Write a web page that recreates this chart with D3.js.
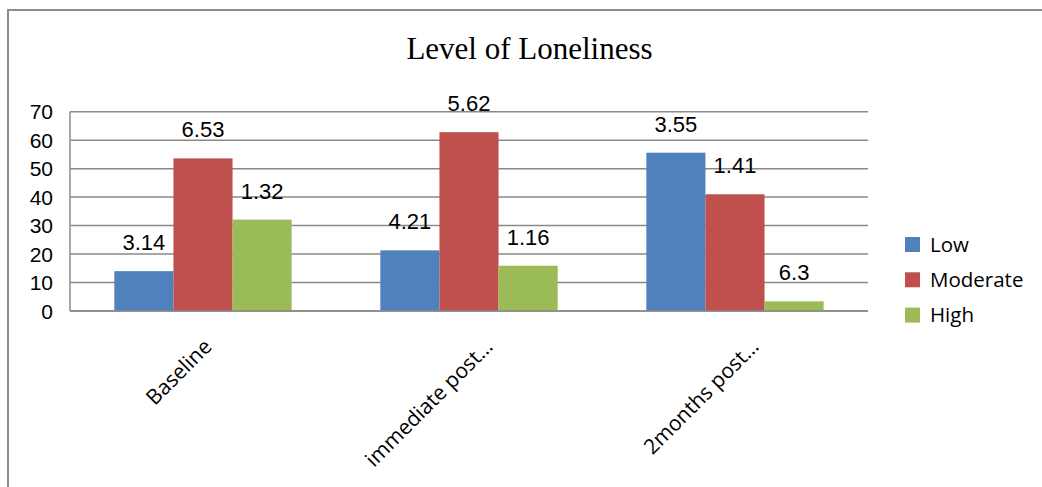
<!DOCTYPE html>
<html>
<head>
<meta charset="utf-8">
<script src="https://cdn.jsdelivr.net/npm/d3@7"></script>
<style>
  html, body { margin: 0; padding: 0; background: #fff; }
  svg { display: block; }
</style>
</head>
<body>
<svg id="chart" width="1042" height="487"></svg>
<script>
// ---- data ----
const title = "Level of Loneliness";
const categories = ["Baseline", "immediate post…", "2months post…"];
const seriesNames = ["Low", "Moderate", "High"];
const lowValues = [14.0, 21.3, 55.6];
const moderateValues = [53.6, 62.8, 41.0];
const highValues = [32.1, 15.9, 3.4];
const lowLabels = ["3.14", "4.21", "3.55"];
const moderateLabels = ["6.53", "5.62", "1.41"];
const highLabels = ["1.32", "1.16", "6.3"];
const yTicks = [0, 10, 20, 30, 40, 50, 60, 70];
const colors = ["#4f81bd", "#c0504d", "#9bbb59"];

const seriesValues = [lowValues, moderateValues, highValues];
const seriesLabels = [lowLabels, moderateLabels, highLabels];

// ---- layout ----
const svg = d3.select("#chart");
const plot = { left: 70, right: 868, top: 111.7, bottom: 311 };

// chart border
svg.append("rect")
  .attr("x", 8).attr("y", 10)
  .attr("width", 1100).attr("height", 600)
  .attr("fill", "none").attr("stroke", "#8c8c8c").attr("stroke-width", 2);

// title
svg.append("text")
  .attr("x", 529.5).attr("y", 59)
  .attr("text-anchor", "middle")
  .attr("font-family", "'Liberation Serif', 'DejaVu Serif', serif")
  .attr("font-size", 31)
  .attr("fill", "#000")
  .text(title);

const y = d3.scaleLinear().domain([0, 70]).range([plot.bottom, plot.top]);
const x0 = d3.scaleBand().domain(categories).range([plot.left, plot.right]).paddingInner(0).paddingOuter(0);
const x1 = d3.scaleBand().domain(seriesNames).range([0, x0.bandwidth()]).paddingInner(0).paddingOuter(0.75);

// gridlines
svg.append("g").selectAll("line").data(yTicks).join("line")
  .attr("x1", plot.left).attr("x2", plot.right)
  .attr("y1", d => y(d)).attr("y2", d => y(d))
  .attr("stroke", "#8a8a8a").attr("stroke-width", 1.5);

// y axis line
svg.append("line")
  .attr("x1", plot.left).attr("x2", plot.left)
  .attr("y1", y(70)).attr("y2", y(0))
  .attr("stroke", "#8a8a8a").attr("stroke-width", 1.5);

// y tick labels
svg.append("g").selectAll("text").data(yTicks).join("text")
  .attr("x", 53).attr("y", d => y(d))
  .attr("dy", "0.36em")
  .attr("text-anchor", "end")
  .attr("font-family", "'Liberation Sans', Arial, sans-serif")
  .attr("font-size", 21)
  .attr("fill", "#000")
  .text(d => d);

// bars
const barData = [];
seriesNames.forEach((s, si) => {
  categories.forEach((c, ci) => {
    barData.push({ series: s, si, cat: c, value: seriesValues[si][ci], label: seriesLabels[si][ci] });
  });
});

svg.append("g").selectAll("rect").data(barData).join("rect")
  .attr("x", d => x0(d.cat) + x1(d.series))
  .attr("y", d => y(d.value))
  .attr("width", x1.bandwidth())
  .attr("height", d => y(0) - y(d.value))
  .attr("fill", d => colors[d.si]);

// redraw zero line over bars
svg.append("line")
  .attr("x1", plot.left).attr("x2", plot.right)
  .attr("y1", y(0)).attr("y2", y(0))
  .attr("stroke", "#8a8a8a").attr("stroke-width", 1.5);

// data labels
svg.append("g").selectAll("text").data(barData).join("text")
  .attr("x", d => x0(d.cat) + x1(d.series) + x1.bandwidth() / 2)
  .attr("y", d => y(d.value) - 21)
  .attr("text-anchor", "middle")
  .attr("font-family", "'Liberation Sans', Arial, sans-serif")
  .attr("font-size", 22)
  .attr("fill", "#000")
  .text(d => d.label);

// x category labels (rotated)
svg.append("g").selectAll("text").data(categories).join("text")
  .attr("text-anchor", "end")
  .attr("transform", d => {
    const cx = x0(d) + x0.bandwidth() / 2 + (d.endsWith("…") ? 25 : 10);
    return `translate(${cx},348) rotate(-45)`;
  })
  .attr("font-family", "'Open Sans', 'Noto Sans', sans-serif")
  .attr("font-size", 21)
  .attr("fill", "#000")
  .text(d => d);

// legend
const legend = svg.append("g").selectAll("g").data(seriesNames).join("g")
  .attr("transform", (d, i) => `translate(905, ${244.5 + i * 35.3})`);
legend.append("rect")
  .attr("x", 0).attr("y", -7.5)
  .attr("width", 15).attr("height", 15)
  .attr("fill", (d, i) => colors[i]);
legend.append("text")
  .attr("x", 25).attr("y", 0)
  .attr("dy", "0.36em")
  .attr("font-family", "'Open Sans', 'Noto Sans', sans-serif")
  .attr("font-size", 20.5)
  .attr("fill", "#000")
  .text(d => d);
</script>
</body>
</html>
